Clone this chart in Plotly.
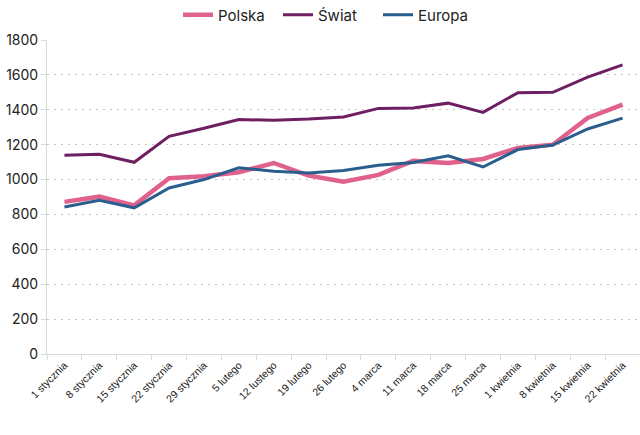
import plotly.graph_objects as go

categories = ["1 stycznia", "8 stycznia", "15 stycznia", "22 stycznia", "29 stycznia",
              "5 lutego", "12 lustego", "19 lutego", "26 lutego", "4 marca", "11 marca",
              "18 marca", "25 marca", "1 kwietnia", "8 kwietnia", "15 kwietnia", "22 kwietnia"]

polska = [872, 902, 852, 1008, 1019, 1042, 1095, 1023, 987, 1027, 1107, 1095, 1118, 1181, 1200, 1353, 1430]
swiat = [1139, 1145, 1099, 1248, 1294, 1344, 1340, 1347, 1359, 1408, 1410, 1438, 1385, 1498, 1500, 1587, 1657]
europa = [843, 881, 838, 952, 1000, 1067, 1048, 1038, 1052, 1082, 1098, 1136, 1072, 1172, 1198, 1290, 1352]

fig = go.Figure()
fig.add_trace(go.Scatter(x=categories, y=polska, name="Polska", mode="lines",
                         line=dict(color="#E0628C", width=4.5)))
fig.add_trace(go.Scatter(x=categories, y=swiat, name="Świat", mode="lines",
                         line=dict(color="#6E1F62", width=3)))
fig.add_trace(go.Scatter(x=categories, y=europa, name="Europa", mode="lines",
                         line=dict(color="#2A5E8E", width=3)))

fig.update_layout(
    width=640, height=435,
    margin=dict(l=47, r=0, t=40, b=81, autoexpand=False),
    paper_bgcolor="white", plot_bgcolor="white",
    legend=dict(orientation="h", x=178 / 640, xanchor="left", xref="container",
                y=1 - 15 / 435, yanchor="middle", yref="container",
                font=dict(family="Inter, Roboto, sans-serif", size=15, color="#222"),
                itemwidth=30, entrywidth=55, entrywidthmode="pixels", tracegroupgap=0),
    showlegend=True,
)
fig.update_xaxes(
    type="category", range=[-0.5, len(categories) - 0.5],
    showline=True, linecolor="#d9d9d9", linewidth=1,
    ticks="outside", tickson="boundaries", ticklen=5, tickcolor="#d9d9d9",
    tickangle=-45, showgrid=False, automargin=False,
    tickfont=dict(family="Liberation Sans, Arial, sans-serif", size=10.5, color="#222"),
)
fig.update_yaxes(
    range=[0, 1800], dtick=200, showline=True, linecolor="#d9d9d9", linewidth=1,
    ticks="outside", ticklen=5, tickcolor="#d9d9d9", zeroline=False, automargin=False,
    showgrid=True, gridcolor="#c4c4c4", griddash="2px,5px", gridwidth=1,
    tickfont=dict(family="Inter, Roboto, sans-serif", size=14, color="#222"),
)

fig.write_html(
    "out.html",
    config={"responsive": False, "displayModeBar": False},
    post_script="document.body.style.margin='0';document.body.style.overflow='hidden';",
)
